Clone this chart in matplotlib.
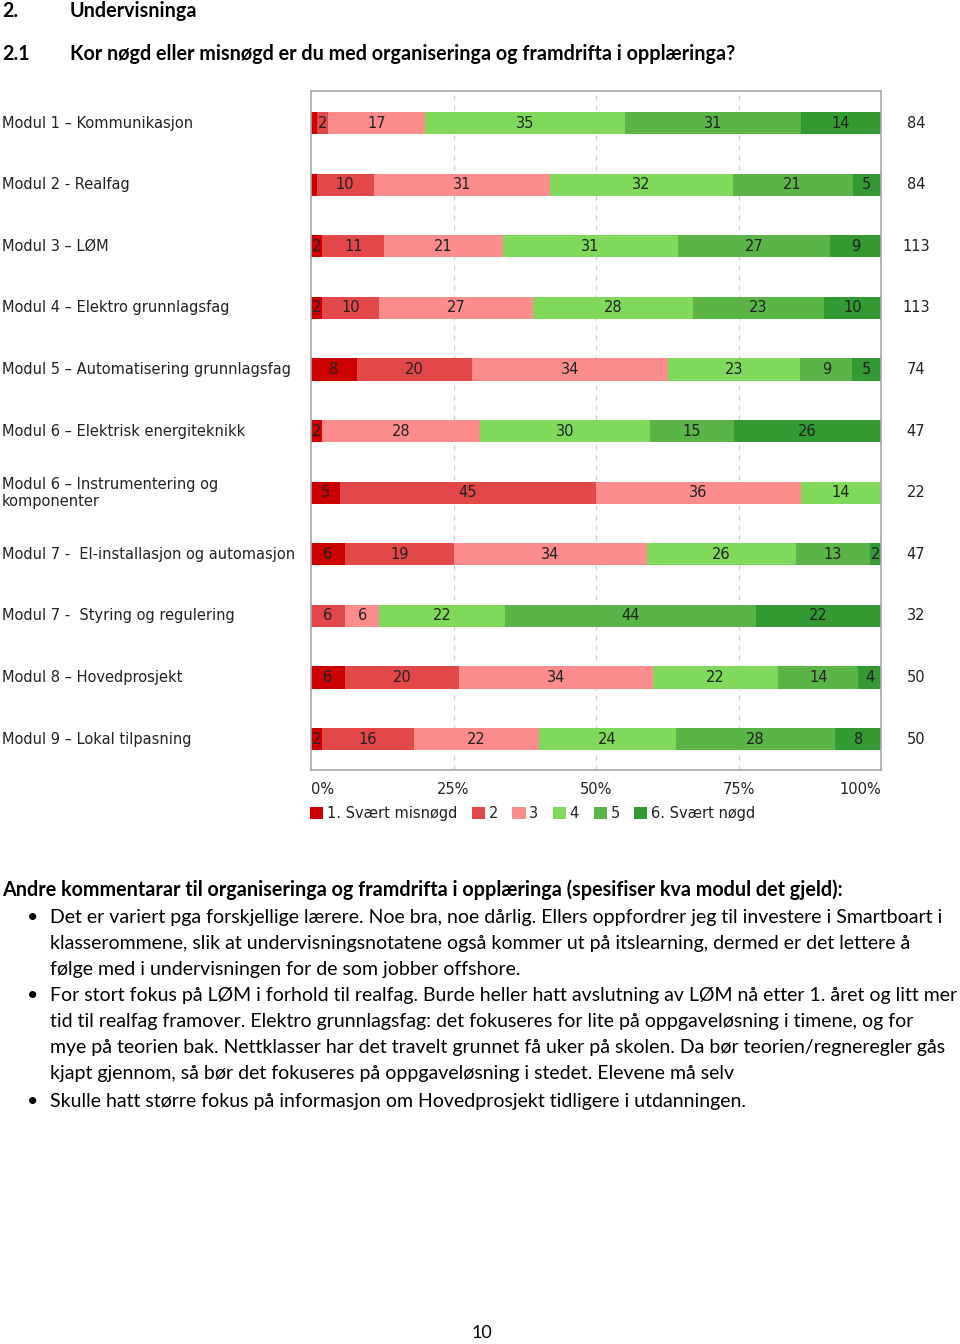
import matplotlib
matplotlib.use("Agg")
import matplotlib.pyplot as plt
import numpy as np
from matplotlib.patches import Patch
from matplotlib.transforms import blended_transform_factory

## Data (percent per answer class, per module)
modules = [
    "Modul 1 \u2013 Kommunikasjon",
    "Modul 2 - Realfag",
    "Modul 3 \u2013 L\u00d8M",
    "Modul 4 \u2013 Elektro grunnlagsfag",
    "Modul 5 \u2013 Automatisering grunnlagsfag",
    "Modul 6 \u2013 Elektrisk energiteknikk",
    "Modul 6 \u2013 Instrumentering og\nkomponenter",
    "Modul 7 -  El-installasjon og automasjon",
    "Modul 7 -  Styring og regulering",
    "Modul 8 \u2013 Hovedprosjekt",
    "Modul 9 \u2013 Lokal tilpasning",
]
cls1 = [1, 1, 2, 2, 8, 2, 5, 6, 0, 6, 2]
cls2 = [2, 10, 11, 10, 20, 0, 45, 19, 6, 20, 16]
cls3 = [17, 31, 21, 27, 34, 28, 36, 34, 6, 34, 22]
cls4 = [35, 32, 31, 28, 23, 30, 14, 26, 22, 22, 24]
cls5 = [31, 21, 27, 23, 9, 15, 0, 13, 44, 14, 28]
cls6 = [14, 5, 9, 10, 5, 26, 0, 2, 22, 4, 8]
totals = [84, 84, 113, 113, 74, 47, 22, 47, 32, 50, 50]

legend_labels = ["1. Sv\u00e6rt misn\u00f8gd", "2", "3", "4", "5", "6. Sv\u00e6rt n\u00f8gd"]
tick_labels = ["0%", "25%", "50%", "75%", "100%"]

colors = ["#cc0000", "#e34848", "#fd8c8c", "#80d95b", "#5ab448", "#339933"]

W, H = 960, 1344
fig = plt.figure(figsize=(W / 100, H / 100), dpi=100)

def fx(px):
    return px / W

def fy(py):
    return 1 - py / H

## Page text (Calibri-like -> Lato)
head = dict(fontfamily="Lato", fontweight="bold", fontsize=14.2, color="black", va="center")
fig.text(fx(2), fy(11), "2.", **head)
fig.text(fx(70), fy(11), "Undervisninga", **head)
fig.text(fx(2), fy(54), "2.1", **head)
fig.text(fx(70), fy(54), "Kor n\u00f8gd eller misn\u00f8gd er du med organiseringa og framdrifta i oppl\u00e6ringa?", **head)

## Chart
ax = fig.add_axes([fx(311), fy(770), fx(881) - fx(311), fy(91) - fy(770)])
data = np.array([cls1, cls2, cls3, cls4, cls5, cls6], dtype=float)
shares = data / data.sum(axis=0) * 100
y = np.arange(len(modules))
left = np.zeros(len(modules))
for k in range(6):
    ax.barh(y, shares[k], left=left, height=0.36, color=colors[k], edgecolor="none", zorder=2)
    for i in range(len(modules)):
        if data[k, i] >= 2:
            ax.text(left[i] + shares[k, i] / 2, y[i], "%d" % data[k, i],
                    ha="center", va="center", fontsize=10.5, color="#222222", zorder=3)
    left += shares[k]

ax.set_xlim(0, 100)
ax.set_ylim(len(modules) - 0.5, -0.52)
ax.set_yticks([])
ax.set_xticks([0, 25, 50, 75, 100])
ax.set_xticklabels(tick_labels, fontsize=10.5, color="#222222")
xt = ax.get_xticklabels()
xt[0].set_ha("left")
xt[-1].set_ha("right")
ax.tick_params(axis="x", length=0, pad=9)
for x in [25, 50, 75]:
    ax.axvline(x, color="#cfcfcf", lw=0.9, ls=(0, (4, 4)), zorder=1)
for s in ax.spines.values():
    s.set_color("#a8a8a8")
    s.set_linewidth(1.2)

# module names on the left, totals on the right
trans = blended_transform_factory(fig.transFigure, ax.transData)
for i, name in enumerate(modules):
    ax.text(fx(2), y[i], name, transform=trans, ha="left", va="center",
            fontsize=10.5, color="#222222", linespacing=1.15)
    ax.text(fx(916), y[i], str(totals[i]), transform=trans, ha="center", va="center",
            fontsize=10.5, color="#222222")

handles = [Patch(facecolor=c, edgecolor="none") for c in colors]
fig.legend(handles, legend_labels, loc="upper left", bbox_to_anchor=(fx(310), fy(806)),
           ncol=6, frameon=False, fontsize=10.5, handlelength=0.9, handleheight=0.9,
           handletextpad=0.25, columnspacing=1.0, borderpad=0, borderaxespad=0,
           labelcolor="#222222")

## Comments below the chart
fig.text(fx(2), fy(890), "Andre kommentarar til organiseringa og framdrifta i oppl\u00e6ringa (spesifiser kva modul det gjeld):",
         **head)
body = dict(fontfamily="Lato", fontsize=14.05, color="black", va="center")
lines = [
    (917, True, "Det er variert pga forskjellige l\u00e6rere. Noe bra, noe d\u00e5rlig. Ellers oppfordrer jeg til investere i Smartboart i"),
    (943, False, "klasserommene, slik at undervisningsnotatene ogs\u00e5 kommer ut p\u00e5 itslearning, dermed er det lettere \u00e5"),
    (969, False, "f\u00f8lge med i undervisningen for de som jobber offshore."),
    (996, True, "For stort fokus p\u00e5 L\u00d8M i forhold til realfag. Burde heller hatt avslutning av L\u00d8M n\u00e5 etter 1. \u00e5ret og litt mer"),
    (1022, False, "tid til realfag framover. Elektro grunnlagsfag: det fokuseres for lite p\u00e5 oppgavel\u00f8sning i timene, og for"),
    (1048, False, "mye p\u00e5 teorien bak. Nettklasser har det travelt grunnet f\u00e5 uker p\u00e5 skolen. Da b\u00f8r teorien/regneregler g\u00e5s"),
    (1073, False, "kjapt gjennom, s\u00e5 b\u00f8r det fokuseres p\u00e5 oppgavel\u00f8sning i stedet. Elevene m\u00e5 selv"),
    (1101, True, "Skulle hatt st\u00f8rre fokus p\u00e5 informasjon om Hovedprosjekt tidligere i utdanningen."),
]
for py, bullet, txt in lines:
    if bullet:
        fig.text(fx(27), fy(py), "\u2022", **body)
    fig.text(fx(50), fy(py), txt, **body)

fig.text(fx(482), fy(1333), "10", ha="center", va="center", fontfamily="Lato", fontsize=13, color="black")

fig.savefig("out.png", dpi=100)
